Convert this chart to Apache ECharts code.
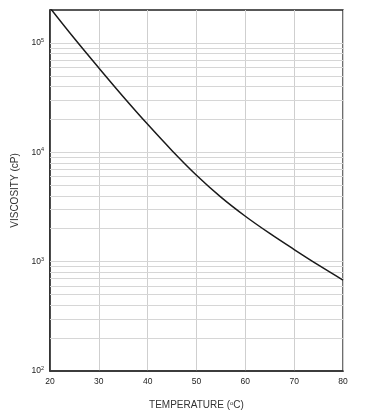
<!DOCTYPE html>
<html>
<head>
<meta charset="utf-8">
<script src="https://cdn.jsdelivr.net/npm/echarts@6/dist/echarts.min.js"></script>
<style>html,body{margin:0;padding:0;background:#fff}#c{width:378px;height:419px}</style>
</head>
<body>
<div id="c"></div>
<script>
const temperatures = [20, 25, 30, 35, 40, 45, 50, 55, 60, 65, 70, 75, 80];
const viscosity = [209000, 109600, 59000, 32200, 18000, 10350, 6170, 3890, 2600, 1810, 1290, 929, 679];
const xTicks = [20, 30, 40, 50, 60, 70, 80];
const yDecades = [100, 1000, 10000, 100000];
const gridMultipliers = [1, 2, 3, 4, 5, 6, 7, 8, 9];

const gridValues = [];
yDecades.forEach(d => {
  gridMultipliers.forEach(m => {
    const v = d * m;
    if (v > 100 && v < 200000) gridValues.push(v);
  });
});

const chart = echarts.init(document.getElementById('c'), null, {renderer: 'canvas'});
const font = 'Liberation Sans, Arial, sans-serif';
chart.setOption({
  animation: false,
  backgroundColor: '#fff',
  grid: {left: 50, top: 10, right: 35, bottom: 48, show: true, borderColor: '#222', borderWidth: 1.3, backgroundColor: 'transparent'},
  xAxis: {
    type: 'value', min: 20, max: 80, interval: 10,
    name: 'TEMPERATURE ({sup|o}C)', nameLocation: 'middle', nameGap: 29,
    nameTextStyle: {fontFamily: font, fontSize: 10, color: '#333',
      rich: {sup: {fontSize: 6, fontFamily: font, color: '#333', padding: [0, 0, 5, 0]}}},
    axisLine: {show: true, lineStyle: {color: '#333', width: 1.5}},
    axisTick: {show: false},
    axisLabel: {fontFamily: font, fontSize: 8.5, color: '#222', margin: 6},
    splitLine: {show: true, lineStyle: {color: '#cfcfcf', width: 1}}
  },
  yAxis: {
    type: 'log', logBase: 10, min: 100, max: 200000,
    name: 'VISCOSITY (cP)', nameLocation: 'middle', nameGap: 30, nameRotate: 90,
    nameTextStyle: {fontFamily: font, fontSize: 10, color: '#333'},
    axisLine: {show: true, lineStyle: {color: '#222', width: 1.5}},
    axisTick: {show: false},
    splitLine: {show: false},
    axisLabel: {
      fontFamily: font, fontSize: 8, color: '#222', margin: 6, showMaxLabel: false,
      formatter: function (v) {
        const l = Math.log10(v);
        const e = Math.round(l);
        if (Math.abs(l - e) > 1e-6) return '';
        return '{b|10}{sup|' + e + '}';
      },
      rich: {
        b: {fontFamily: font, fontSize: 8.5, color: '#222'},
        sup: {fontFamily: font, fontSize: 5.5, color: '#222', padding: [0, 0, 5, 0]}
      }
    }
  },
  series: [
    {
      type: 'line', z: 1, silent: true, showSymbol: false,
      data: temperatures.map((t, i) => [t, viscosity[i]]),
      lineStyle: {opacity: 0},
      markLine: {
        silent: true, symbol: 'none', label: {show: false},
        lineStyle: {color: '#d6d6d6', type: 'solid', width: 1},
        data: gridValues.map(v => ({yAxis: v}))
      }
    },
    {
      type: 'line', z: 5, smooth: 0.35, showSymbol: false, clip: true,
      data: temperatures.map((t, i) => [t, viscosity[i]]),
      lineStyle: {color: '#1a1a1a', width: 1.5}
    }
  ]
});
</script>
</body>
</html>
